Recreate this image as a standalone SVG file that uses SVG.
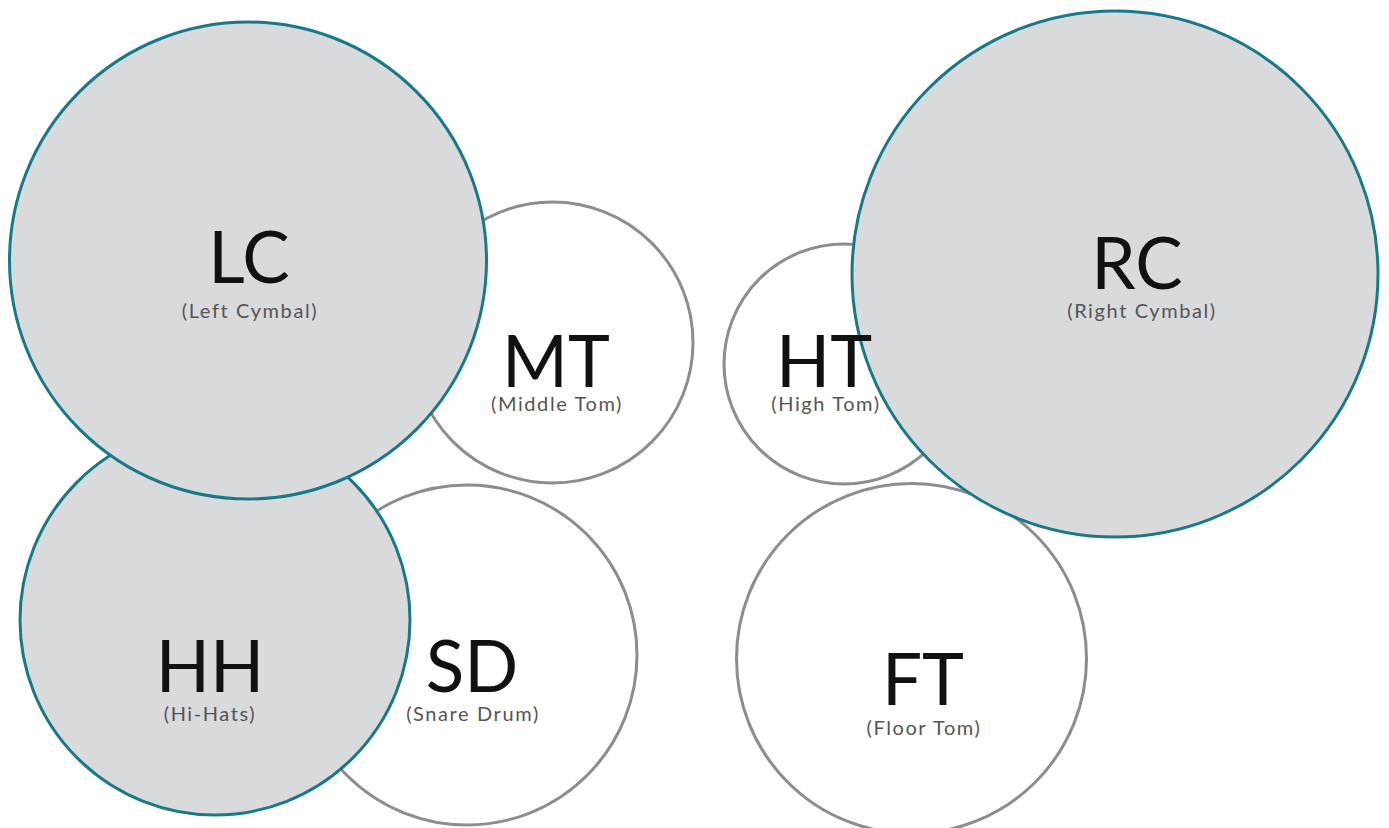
<svg xmlns="http://www.w3.org/2000/svg" width="1389" height="828" viewBox="0 0 1389 828">
  <style>
    .drum { fill: #ffffff; stroke: #8c8c91; stroke-width: 3; }
    .cymbal { fill: #d9dadb; stroke: #17798a; stroke-width: 3; }
    .abbr { font-family: Lato, "Liberation Sans", sans-serif; font-size: 71px; font-weight: 400; fill: #111111; text-anchor: middle; }
    .name { font-family: Lato, "Liberation Sans", sans-serif; font-size: 20px; letter-spacing: 1.6px; fill: #555555; text-anchor: middle; }
  </style>
  <rect width="1389" height="828" fill="#ffffff"/>

  <!-- drums -->
  <g id="MT"><circle class="drum" cx="552.5" cy="342.5" r="140.5"/></g>
  <g id="HT"><circle class="drum" cx="844" cy="364" r="120"/></g>
  <g id="SD"><circle class="drum" cx="467" cy="655" r="170"/></g>
  <g id="FT"><circle class="drum" cx="911.5" cy="658.5" r="175"/></g>

  <!-- cymbals -->
  <g id="HH"><circle class="cymbal" cx="215" cy="620" r="195"/></g>
  <g id="LC"><circle class="cymbal" cx="248" cy="260.5" r="238.5"/></g>
  <g id="RC"><circle class="cymbal" cx="1115" cy="274" r="263"/></g>

  <!-- labels sit above every circle -->
  <g id="connectors"></g>
  <g id="labels">
    <g id="LC-label"><text class="abbr" x="249" y="283">LC</text><text class="name" x="250" y="318">(Left Cymbal)</text></g>
    <g id="MT-label"><text class="abbr" x="556" y="387">MT</text><text class="name" x="557" y="411">(Middle Tom)</text></g>
    <g id="HT-label"><text class="abbr" x="824" y="387">HT</text><text class="name" x="826" y="411">(High Tom)</text></g>
    <g id="RC-label"><text class="abbr" x="1137" y="289">RC</text><text class="name" x="1142" y="318">(Right Cymbal)</text></g>
    <g id="HH-label"><text class="abbr" x="210" y="692">HH</text><text class="name" x="210" y="721">(Hi-Hats)</text></g>
    <g id="SD-label"><text class="abbr" x="472" y="692">SD</text><text class="name" x="473" y="721">(Snare Drum)</text></g>
    <g id="FT-label"><text class="abbr" x="923" y="705">FT</text><text class="name" x="924" y="735">(Floor Tom)</text></g>
  </g>
</svg>
